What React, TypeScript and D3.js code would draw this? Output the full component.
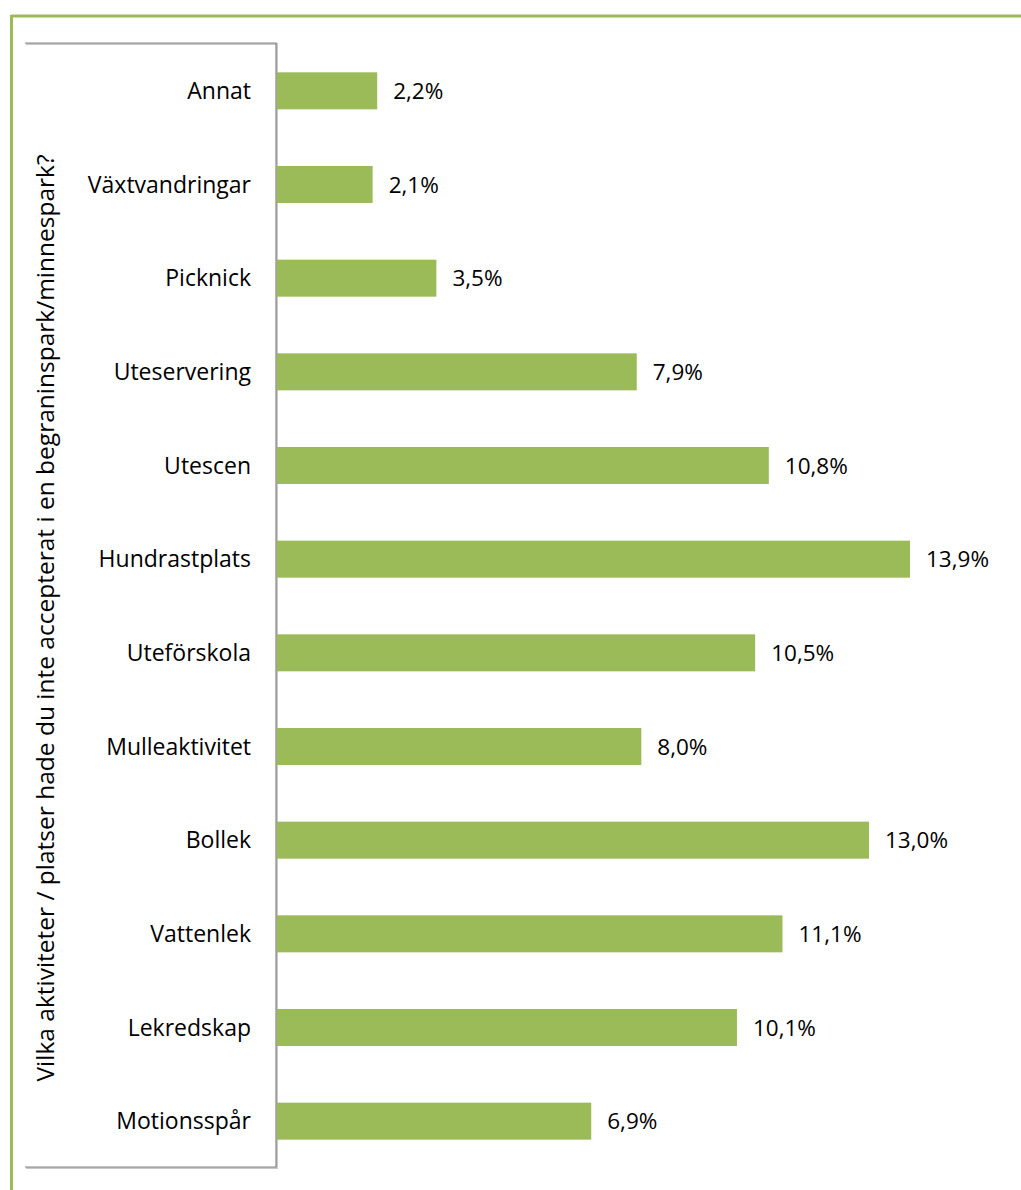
import React, { useEffect, useRef } from 'react';
import * as d3 from 'd3';

const categories = [
  'Annat',
  'Växtvandringar',
  'Picknick',
  'Uteservering',
  'Utescen',
  'Hundrastplats',
  'Uteförskola',
  'Mulleaktivitet',
  'Bollek',
  'Vattenlek',
  'Lekredskap',
  'Motionsspår',
];
const values = [2.2, 2.1, 3.5, 7.9, 10.8, 13.9, 10.5, 8.0, 13.0, 11.1, 10.1, 6.9];
const axisTitle = 'Vilka aktiviteter / platser hade du inte accepterat i en begraninspark/minnespark?';

const W = 1021;
const H = 1190;
const GREEN = '#9BBB59';
const FONT = '"Open Sans", sans-serif';

const App: React.FC = () => {
  const svgRef = useRef<SVGSVGElement>(null);

  useEffect(() => {
    if (!svgRef.current) return;
    const svg = d3.select(svgRef.current);
    svg.selectAll('*').remove();

    const plot = { left: 276, top: 44, bottom: 1168 };

    // outer green frame (top and left edges only visible)
    svg.append('line').attr('x1', 11).attr('x2', W).attr('y1', 16).attr('y2', 16)
      .attr('stroke', GREEN).attr('stroke-width', 3);
    svg.append('line').attr('x1', 11.5).attr('x2', 11.5).attr('y1', 15).attr('y2', H)
      .attr('stroke', GREEN).attr('stroke-width', 3);

    // inner grey box around category labels
    const boxPath = `M25,${plot.top - 1} H${plot.left} V${plot.bottom - 1} H25`;
    svg.append('path')
      .attr('d', boxPath)
      .attr('fill', 'none').attr('stroke', '#c8c8c8').attr('stroke-width', 2)
      .attr('transform', 'translate(1,1)');
    svg.append('path')
      .attr('d', boxPath)
      .attr('fill', 'none').attr('stroke', '#868686').attr('stroke-width', 1.2);

    const x = d3.scaleLinear().domain([0, 13.9]).range([plot.left + 1, 910]);
    const y = d3.scaleBand<string>().domain(categories).range([plot.top, plot.bottom]).paddingInner(0.605).paddingOuter(0.3025);

    const g = svg.append('g');
    g.selectAll('rect.bar')
      .data(values)
      .join('rect')
      .attr('class', 'bar')
      .attr('x', x(0))
      .attr('y', (_, i) => y(categories[i])!)
      .attr('width', d => x(d) - x(0))
      .attr('height', y.bandwidth())
      .attr('fill', GREEN);

    g.selectAll('text.val')
      .data(values)
      .join('text')
      .attr('class', 'val')
      .attr('x', d => x(d) + 16)
      .attr('y', (_, i) => y(categories[i])! + y.bandwidth() / 2)
      .attr('dy', '0.36em')
      .attr('font-family', FONT)
      .attr('font-size', 22.5)
      .attr('fill', '#000')
      .text(d => d.toFixed(1).replace('.', ',') + '%');

    g.selectAll('text.cat')
      .data(categories)
      .join('text')
      .attr('class', 'cat')
      .attr('x', 251)
      .attr('y', d => y(d)! + y.bandwidth() / 2)
      .attr('dy', '0.36em')
      .attr('text-anchor', 'end')
      .attr('font-family', FONT)
      .attr('font-size', 23)
      .attr('fill', '#000')
      .text(d => d);

    svg.append('text')
      .attr('transform', `translate(54, ${(plot.top + plot.bottom) / 2 + 12}) rotate(-90)`)
      .attr('text-anchor', 'middle')
      .attr('font-family', FONT)
      .attr('font-size', 24.5)
      .attr('fill', '#000')
      .text(axisTitle);
  }, []);

  return (
    <svg
      ref={svgRef}
      width={W}
      height={H}
      style={{ position: 'absolute', left: 0, top: 0, background: '#fff' }}
    />
  );
};

export default App;
